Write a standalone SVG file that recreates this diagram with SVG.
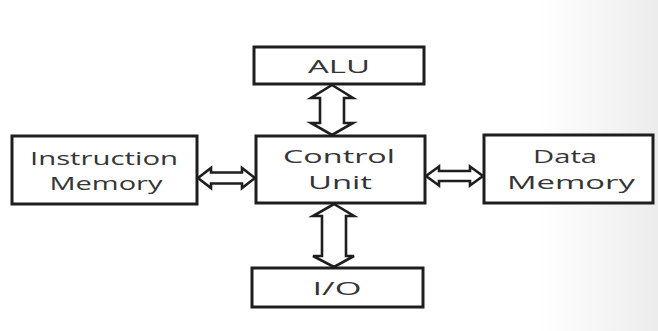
<svg xmlns="http://www.w3.org/2000/svg" width="658" height="331" viewBox="0 0 658 331">
<defs>
<linearGradient id="bg" x1="0" y1="0" x2="1" y2="0">
<stop offset="0" stop-color="#ffffff"/>
<stop offset="0.82" stop-color="#ffffff"/>
<stop offset="1" stop-color="#ececec"/>
</linearGradient>
<style>
.box{fill:#ffffff;stroke:#1e1e1e;stroke-width:3}
.arr{fill:#ffffff;stroke:#1e1e1e;stroke-width:2.6;stroke-linejoin:miter}
.t{font-family:"Open Sans","Noto Sans","DejaVu Sans",sans-serif;font-size:18px;fill:#353535;text-anchor:middle}
</style>
</defs>
<rect x="0" y="0" width="658" height="331" fill="url(#bg)"/>
<g id="alu">
<rect class="box" x="254" y="47" width="170" height="37"/>
<text class="t" x="339" y="73" textLength="62" lengthAdjust="spacingAndGlyphs">ALU</text>
</g>
<g id="control-unit">
<rect class="box" x="256" y="136" width="169" height="67"/>
<text class="t" x="339" y="163" textLength="112" lengthAdjust="spacingAndGlyphs">Control</text>
<text class="t" x="340" y="189" textLength="64" lengthAdjust="spacingAndGlyphs">Unit</text>
</g>
<g id="instruction-memory">
<rect class="box" x="12" y="136" width="185" height="68"/>
<text class="t" x="104" y="165" textLength="148" lengthAdjust="spacingAndGlyphs">Instruction</text>
<text class="t" x="106" y="190" textLength="113" lengthAdjust="spacingAndGlyphs">Memory</text>
</g>
<g id="data-memory">
<rect class="box" x="484" y="135" width="169" height="68"/>
<text class="t" x="565" y="163" textLength="64" lengthAdjust="spacingAndGlyphs">Data</text>
<text class="t" x="571" y="189" textLength="128" lengthAdjust="spacingAndGlyphs">Memory</text>
</g>
<g id="io">
<rect class="box" x="252" y="268" width="171" height="39"/>
<text class="t" x="337" y="295" textLength="49" lengthAdjust="spacingAndGlyphs">I/O</text>
</g>
<g id="connectors">
<polygon class="arr" points="332,85 353,98 344,98 344,123 353,123 332,135 311,123 320,123 320,98 311,98"/>
<polygon class="arr" points="334,204 354,216 346,216 346,256 354,256 334,267 313,256 322,256 322,216 313,216"/>
<polygon class="arr" points="198,178 211,168 211,172.5 242,172.5 242,168 255,178 242,188 242,183.5 211,183.5 211,188"/>
<polygon class="arr" points="426,176 439,166.5 439,171 470,171 470,166.5 483,176 470,185.5 470,181 439,181 439,185.5"/>
</g>
</svg>
